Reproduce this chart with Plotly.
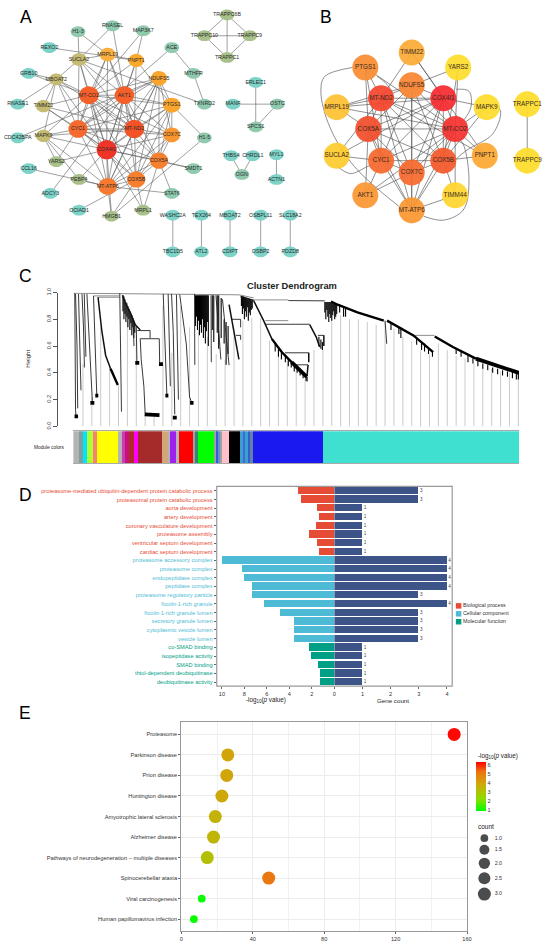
#!/usr/bin/env python
"""Five panel figure: PPI networks, WGCNA dendrogram, GO bars and KEGG bubbles"""

import math

import plotly.graph_objects as go

FONT = "Liberation Sans, Arial, sans-serif"
W, H = 550, 945

# ---- panel A network
a_names = [
    "H1-3", "RNASEL", "MAP3K7", "ACE", "REXO2", "MRPL19", "PNPT1", "SUCLA2", "GRB10", "MBOAT2",
    "NDUFS5", "MTHFR", "MT-CO2", "AKT1", "RNASE1", "TIMM22", "PTGS1", "TXNRD2", "CYC1", "MT-ND2",
    "COX7C", "MAPK9", "CDC42BPA", "H1-5", "COX4I1", "YARS2", "COX5A", "CCL16", "SMDT1", "PEBP4",
    "COX5B", "MT-ATP6", "ADCY3", "STAT6", "OCIAD1", "HMGB1", "MRPL1",
    "TRAPPC6B", "TRAPPC10", "TRAPPC9", "TRAPPC1", "ERLEC1", "MANF", "OSTC", "SPCS1",
    "THBS4", "CHRDL1", "OGN", "MYL1", "ACTN1", "WASHC2A", "TBC1D5", "TEX264", "ATL2",
    "MBOAT2_2", "CDIPT", "OSBPL11", "OSBP2", "SLC18A2", "PDZD8",
]
a_x = [
    77, 112, 143, 172, 48, 107, 136, 78, 27, 55,
    159, 194, 88, 124, 16, 42, 172, 205, 77, 134,
    172, 42, 16, 205, 106, 55, 159, 27, 194, 78,
    136, 107, 49, 172, 78, 111, 143,
    228, 205, 251, 228, 257, 234, 279, 257,
    232, 254, 243, 278, 278, 173, 173, 202, 202,
    231, 231, 262, 262, 292, 292,
]
a_y = [
    27, 21, 26, 43, 43, 50, 56, 55, 69, 75,
    74, 69, 91, 91, 100, 102, 101, 100, 125, 125,
    131, 132, 134, 134, 146, 158, 157, 165, 165, 176,
    176, 183, 190, 190, 207, 213, 207,
    10, 31, 31, 53, 78, 100, 100, 123,
    152, 152, 171, 151, 176, 212, 249, 212, 249,
    212, 249, 212, 249, 212, 249,
]
a_colors = [
    "#8fc9ae", "#8fc9ae", "#8fc9ae", "#8fc9ae", "#7dd3c8", "#f9b040", "#fba92d", "#c5bb72", "#7dd3c8", "#c5bb72",
    "#f9a52e", "#8fc9ae", "#f5602a", "#f5602a", "#7dd3c8", "#c5bb72", "#f9a52e", "#8fc9ae", "#f56b2f", "#f45327",
    "#f9962f", "#c5bb72", "#7dd3c8", "#8fc9ae", "#ef3528", "#a8c08a", "#f68030", "#7dd3c8", "#8fc9ae", "#a8c08a",
    "#f68030", "#f67a30", "#7dd3c8", "#8fc9ae", "#7dd3c8", "#a8c08a", "#a8c08a",
    "#a8c08a", "#a8c08a", "#a8c08a", "#a8c08a", "#7dd3c8", "#7dd3c8", "#8fc9ae", "#8fc9ae",
    "#7dd3c8", "#7dd3c8", "#8fc9ae", "#7dd3c8", "#7dd3c8", "#7dd3c8", "#7dd3c8", "#7dd3c8", "#7dd3c8",
    "#7dd3c8", "#7dd3c8", "#7dd3c8", "#7dd3c8", "#7dd3c8", "#7dd3c8",
]
a_edges = {
    "COX4I1": ["MT-CO2", "AKT1", "CYC1", "MT-ND2", "COX5A", "COX5B", "MT-ATP6", "COX7C", "PTGS1", "NDUFS5",
               "MRPL19", "PNPT1", "SUCLA2", "MBOAT2", "TIMM22", "MAPK9", "YARS2", "PEBP4", "SMDT1", "HMGB1", "MRPL1"],
    "MT-CO2": ["AKT1", "CYC1", "MT-ND2", "COX5A", "COX5B", "MT-ATP6", "COX7C", "PTGS1", "NDUFS5", "MRPL19",
               "SUCLA2", "MBOAT2", "TIMM22", "MAPK9", "PNPT1", "GRB10", "MAP3K7"],
    "MT-ND2": ["AKT1", "CYC1", "COX5A", "COX5B", "MT-ATP6", "COX7C", "PTGS1", "NDUFS5", "MRPL19", "SUCLA2",
               "PNPT1", "MBOAT2", "TIMM22", "MAPK9"],
    "CYC1": ["AKT1", "COX5A", "COX5B", "MT-ATP6", "COX7C", "PTGS1", "NDUFS5", "ACE", "MBOAT2", "TIMM22",
             "MAPK9", "YARS2", "SUCLA2", "MRPL19"],
    "AKT1": ["COX5A", "COX5B", "MT-ATP6", "COX7C", "PTGS1", "NDUFS5", "RNASEL", "MRPL19", "PNPT1", "SUCLA2", "ADCY3"],
    "COX5A": ["COX5B", "MT-ATP6", "COX7C", "PTGS1", "NDUFS5", "SMDT1", "STAT6", "MRPL1"],
    "COX5B": ["MT-ATP6", "COX7C", "PTGS1", "NDUFS5", "HMGB1", "OCIAD1", "MRPL1"],
    "MT-ATP6": ["COX7C", "PTGS1", "NDUFS5", "PEBP4", "CCL16", "STAT6", "MAPK9", "HMGB1"],
    "COX7C": ["PTGS1", "NDUFS5"],
    "PTGS1": ["NDUFS5", "H1-5", "PNPT1"],
    "SUCLA2": ["MRPL19", "H1-3", "RNASEL", "TXNRD2", "MBOAT2"],
    "MBOAT2": ["RNASE1", "TIMM22", "MAPK9", "GRB10"],
    "H1-3": ["MRPL19"],
    "MRPL19": ["PNPT1"],
    "REXO2": ["PNPT1"],
    "MAP3K7": ["PNPT1"],
    "ACE": ["MTHFR"],
    "MTHFR": ["TXNRD2"],
    "H1-5": ["HMGB1"],
    "CDC42BPA": ["NDUFS5"],
    "PEBP4": ["MAPK9"],
    "YARS2": ["MAPK9"],
    "TRAPPC6B": ["TRAPPC10", "TRAPPC9", "TRAPPC1"],
    "TRAPPC10": ["TRAPPC9", "TRAPPC1"],
    "TRAPPC9": ["TRAPPC1"],
    "ERLEC1": ["SPCS1"],
    "MANF": ["OSTC"],
    "OSTC": ["SPCS1"],
    "OGN": ["THBS4", "CHRDL1"],
    "MYL1": ["ACTN1"],
    "WASHC2A": ["TBC1D5"],
    "TEX264": ["ATL2"],
    "MBOAT2_2": ["CDIPT"],
    "OSBPL11": ["OSBP2"],
    "SLC18A2": ["PDZD8"],
}
# node width, height in px where they differ from the small default
a_sizes = {
    "COX4I1": (20.5, 19.5), "MT-CO2": (20, 18), "AKT1": (20, 18), "CYC1": (19.5, 18), "MT-ND2": (20, 18.5),
    "COX5A": (18.5, 16.5), "COX5B": (18.5, 16.5), "MT-ATP6": (19, 17), "COX7C": (17, 15), "PTGS1": (18, 15),
    "NDUFS5": (16.5, 15), "MRPL19": (16, 14), "PNPT1": (15.5, 13.5), "SUCLA2": (16, 13), "MBOAT2": (15, 12),
    "TIMM22": (15.5, 12.5), "MAPK9": (15.5, 12.5),
}

# ---- panel B network
b_names = ["TIMM22", "PTGS1", "YARS2", "NDUFS5", "MT-ND2", "COX4I1", "MRPL19", "MAPK9", "COX5A", "MT-CO2",
           "TRAPPC1", "TRAPPC9", "SUCLA2", "CYC1", "COX5B", "PNPT1", "COX7C", "AKT1", "TIMM44", "MT-ATP6"]
b_x = [415, 368, 462, 415, 384, 447, 339, 491, 371, 459, 532, 532, 339, 384, 447, 489, 415, 368, 459, 415]
b_y = [48, 63, 63, 81, 94, 94, 103, 103, 125, 125, 100, 157, 152, 157, 157, 152, 169, 192, 192, 207]
b_colors = ["#fbab35", "#f98d33", "#fede2e", "#f98432", "#f5452d", "#f52b30", "#fdc131", "#fedc2b", "#f24f2b", "#f53330",
            "#fedd2a", "#fedd2a", "#fdcb2e", "#f6682e", "#f5582b", "#fca832", "#f66a2e", "#fb9733", "#fed52d", "#fb9731"]
b_edges = {
    "MT-CO2": ["COX4I1", "MT-ND2", "COX5A", "CYC1", "COX7C", "COX5B", "NDUFS5", "MT-ATP6", "PNPT1", "MAPK9",
               "YARS2", "MRPL19", "AKT1", "TIMM44", "PTGS1"],
    "COX4I1": ["MT-ND2", "COX5A", "CYC1", "COX7C", "COX5B", "NDUFS5", "MT-ATP6", "MAPK9", "MRPL19", "SUCLA2", "TIMM22"],
    "MT-ND2": ["COX5A", "CYC1", "COX7C", "COX5B", "NDUFS5", "MT-ATP6", "PNPT1", "MRPL19", "PTGS1", "TIMM22", "SUCLA2"],
    "COX5A": ["CYC1", "COX7C", "COX5B", "NDUFS5", "MT-ATP6", "PTGS1", "MRPL19", "AKT1"],
    "CYC1": ["COX7C", "COX5B", "NDUFS5", "MT-ATP6", "PTGS1", "AKT1", "SUCLA2"],
    "COX7C": ["COX5B", "NDUFS5", "MT-ATP6", "AKT1"],
    "COX5B": ["NDUFS5", "MT-ATP6", "PNPT1", "TIMM44", "MAPK9"],
    "NDUFS5": ["MT-ATP6", "YARS2", "MRPL19"],
    "YARS2": ["COX5B"],
    "TIMM22": ["PNPT1"],
    "TIMM44": ["MT-ATP6"],
    "TRAPPC1": ["TRAPPC9"],
}
# the bent edges, as waypoints for a spline
b_curves = [
    [(355, 63), (327, 72), (323, 87), (332, 123), (357, 163), (402, 203)],
    [(498, 97), (505, 107), (497, 130), (470, 147), (447, 167)],
    [(427, 213), (447, 217), (467, 207), (473, 180), (467, 140), (460, 133)],
    [(340, 163), (353, 170), (370, 163), (383, 157)],
    [(460, 85), (473, 87), (475, 103), (467, 117)],
    [(380, 72), (388, 78), (395, 87)],
]

# ---- panel C dendrogram, x is leaf position
guide_x = [82, 91, 100, 109, 118, 127, 136, 145, 154, 163, 172, 181, 190, 199, 208, 217, 226, 235, 244, 253,
           262, 271, 280, 289, 298, 307, 316, 325, 334, 343, 352, 361, 370, 379, 388, 397, 406, 415, 424,
           433, 442, 451, 460, 469, 478, 487, 496, 505, 514, 523]
guide_top = [0.47, 0.22, 0.74, 0.44, 0.31, 0.79, 0.72, 0.09, 0.09, 0.9, 0.55, 0.9, 0.74, 0.72, 0.67, 0.54, 0.5, 0.72, 0.79, 0.81,
             0.81, 0.64, 0.57, 0.49, 0.44, 0.35, 0.57, 0.57, 0.81, 0.83, 0.8, 0.8, 0.78, 0.76, 0.79, 0.73, 0.67, 0.64, 0.57,
             0.54, 0.62, 0.57, 0.53, 0.51, 0.47, 0.44, 0.43, 0.41, 0.4, 0.39]
dend_grey = [
    [(72.7, 0.995), (190, 0.99), (240, 0.983), (255, 0.96)],
    [(92.7, 0.975), (119, 0.975)],
    [(97.3, 0.965), (119, 0.965)],
    [(255, 0.945), (290, 0.945)],
    [(266.7, 0.79), (290, 0.79)],
    [(418, 0.68), (438, 0.68)],
]
dend_thin = [
    [(73.7, 0.995), (73.8, 0.6), (74.5, 0.12), (75, 0.07)],
    [(74.5, 0.99), (76, 0.6), (76.7, 0.135)],
    [(77.5, 0.99), (79, 0.6), (80, 0.27)],
    [(81, 0.99), (82.5, 0.75), (83.5, 0.44)],
    [(83.3, 0.99), (85, 0.52)],
    [(86, 0.99), (88, 0.7), (90.5, 0.25), (91.5, 0.19)],
    [(92.7, 0.975), (94, 0.7), (96, 0.235)],
    [(119.3, 0.995), (120.5, 0.5), (121, 0.11)],
    [(133, 0.75), (133.7, 0.6)],
    [(136, 0.75), (136.7, 0.47)],
    [(137, 0.716), (150, 0.716), (150, 0.66)],
    [(140, 0.655), (159.3, 0.655), (159.7, 0.47)],
    [(140, 0.655), (141, 0.5), (143.7, 0.3), (145, 0.1)],
    [(163.3, 0.99), (165, 0.7), (167, 0.235)],
    [(168.3, 0.99), (170.5, 0.3)],
    [(171.7, 0.99), (173.5, 0.7), (175, 0.09)],
    [(176.7, 0.985), (178.7, 0.2)],
    [(180, 0.985), (186.7, 0.615), (190, 0.22), (192, 0.18)],
    [(195, 0.99), (195.3, 0.46)],
    [(211.7, 0.98), (212, 0.48)],
    [(216.7, 0.98), (221.7, 0.5)],
    [(223.3, 0.95), (230, 0.457)],
    [(233, 0.8), (241.7, 0.8), (241.7, 0.74)],
    [(237, 0.68), (241.7, 0.68), (241.7, 0.647)],
    [(266.7, 0.763), (311.7, 0.763)],
    [(320, 0.68), (326, 0.68)],
    [(286.7, 0.55), (310.7, 0.55)],
    [(297, 0.46), (310, 0.46)],
    [(290, 0.94), (327, 0.938)],
    [(388, 0.79), (389.7, 0.617)],
]
dend_mid = [
    [(97.3, 0.965), (101, 0.72), (105, 0.53), (110, 0.43)],
    [(122, 0.98), (125, 0.92), (130, 0.85), (135, 0.76), (140, 0.72)],
    [(230, 0.91), (240, 0.5)],
    [(241.7, 0.97), (255, 0.94)],
    [(255, 0.938), (265, 0.79), (273.3, 0.654)],
    [(311.7, 0.76), (318.3, 0.667), (321.7, 0.593)],
    [(326, 0.68), (326, 0.6)],
    [(310.7, 0.55), (310.7, 0.48)],
    [(310, 0.46), (309, 0.38)],
]
dend_thick = [
    [(273.3, 0.654), (283.3, 0.556), (293.3, 0.48)],
    [(333.3, 0.933), (340, 0.909), (360, 0.852), (386.7, 0.79)],
    [(390, 0.79), (416.7, 0.68), (436.7, 0.555)],
    [(438.3, 0.672), (456.7, 0.593), (480, 0.506)],
    [(110, 0.43), (117.3, 0.31)],
]
dend_fat = [
    [(293.3, 0.48), (303.3, 0.407), (308.7, 0.37)],
    [(480, 0.506), (510, 0.43), (523.7, 0.4)],
    [(73.5, 0.075), (77, 0.075)],
    [(89.5, 0.175), (93.5, 0.175)],
    [(135, 0.475), (139, 0.475)],
    [(144.5, 0.09), (159.5, 0.085)],
    [(159, 0.465), (163, 0.465)],
    [(173, 0.065), (177, 0.065)],
    [(190.5, 0.175), (194, 0.175)],
    [(94.5, 0.23), (97.5, 0.23)],
    [(165.5, 0.23), (168.5, 0.23)],
]
hair_x = [225, 227, 229,
          276.7, 280, 283, 287, 290, 293, 296, 299, 302, 305, 308, 309, 321, 323, 324.5,
          342, 346, 348, 394, 402, 404, 420, 425, 428, 432, 436,
          460, 465, 472, 477, 482, 487, 492, 497, 502, 507, 512, 517, 521, 523,
          122.5, 123.5, 124.5, 125.5, 126.5, 127.5, 128.5, 129.5, 130.5, 131.5, 132.5, 133.5, 134.5,
          196, 197, 198, 199, 200, 201, 202, 203, 204, 205, 206, 207, 208, 209, 213, 214.5, 218, 219.5, 222,
          242.5, 243.5, 244.5, 245.5, 246.5, 247.5, 248.5, 249.5, 250.5, 251.5, 252.5, 253.5,
          327, 328, 329, 330, 331, 332, 333, 334, 335, 336, 337, 338, 339]
hair_top = [0.8, 0.78, 0.75,
            0.62, 0.58, 0.55, 0.53, 0.5, 0.48, 0.46, 0.44, 0.42, 0.4, 0.38, 0.37, 0.67, 0.65, 0.63,
            0.9, 0.89, 0.885, 0.78, 0.74, 0.74, 0.66, 0.63, 0.62, 0.59, 0.56,
            0.58, 0.56, 0.53, 0.51, 0.49, 0.47, 0.46, 0.44, 0.43, 0.42, 0.41, 0.41, 0.4, 0.4,
            0.98, 0.97, 0.95, 0.93, 0.92, 0.9, 0.88, 0.86, 0.84, 0.83, 0.81, 0.79, 0.77,
            0.98, 0.98, 0.98, 0.98, 0.98, 0.98, 0.98, 0.98, 0.98, 0.98, 0.98, 0.98, 0.98, 0.98, 0.98, 0.98, 0.98, 0.98, 0.96,
            0.97, 0.97, 0.97, 0.96, 0.96, 0.96, 0.95, 0.95, 0.95, 0.95, 0.94, 0.94,
            0.93, 0.93, 0.93, 0.93, 0.93, 0.93, 0.93, 0.93, 0.93, 0.92, 0.92, 0.92, 0.91]
hair_bottom = [0.62, 0.46, 0.54,
               0.56, 0.52, 0.5, 0.48, 0.45, 0.44, 0.41, 0.4, 0.38, 0.36, 0.34, 0.335, 0.6, 0.58, 0.57,
               0.85, 0.82, 0.82, 0.72, 0.69, 0.66, 0.61, 0.57, 0.56, 0.54, 0.52,
               0.54, 0.52, 0.48, 0.47, 0.45, 0.43, 0.42, 0.4, 0.39, 0.38, 0.37, 0.36, 0.35, 0.35,
               0.86, 0.8, 0.84, 0.78, 0.82, 0.74, 0.8, 0.72, 0.77, 0.68, 0.74, 0.66, 0.7,
               0.75, 0.82, 0.72, 0.79, 0.68, 0.76, 0.7, 0.8, 0.66, 0.74, 0.62, 0.71, 0.78, 0.6, 0.72, 0.63, 0.7, 0.58, 0.66,
               0.9, 0.84, 0.88, 0.8, 0.86, 0.82, 0.89, 0.79, 0.85, 0.83, 0.87, 0.88,
               0.85, 0.8, 0.87, 0.82, 0.78, 0.84, 0.81, 0.79, 0.83, 0.86, 0.8, 0.82, 0.84]
module_edges = [72.3, 78.3, 82.3, 86, 92.7, 96.7, 118.3, 122, 125.3, 129.3, 133.7, 138, 162.7, 169.3, 170.7, 176.7,
                179.7, 194, 196, 199, 216, 217.7, 219.3, 221.3, 223, 230.7, 241, 245, 246.7, 250, 252, 255, 325.5, 523.7]
module_colors = ["#b4b4b4", "#7f9f9f", "#00e5ff", "#adff2f", "#fa8072", "#ffff00", "#b4b4b4", "#c83cb4", "#c8107a",
                 "#b02a2a", "#ff00ff", "#a52a2a", "#d2a679", "#b4b4b4", "#a020f0", "#b4b4b4", "#ff0000", "#a0a0a0",
                 "#2e8b7a", "#00ff00", "#a0a0a0", "#3060e0", "#6a90c8", "#a0a0a0", "#ffc0cb", "#000000", "#3a9fd8",
                 "#3f6fc0", "#3a9fd8", "#3060c8", "#6080a8", "#1919f0", "#40e0d0"]

# ---- panel D
go_terms = [
    "proteasome-mediated ubiquitin-dependent protein catabolic process", "proteasomal protein catabolic process",
    "aorta development", "artery development", "coronary vasculature development", "proteasome assembly",
    "ventricular septum development", "cardiac septum development",
    "proteasome accessory complex", "proteasome complex", "endopeptidase complex", "peptidase complex",
    "proteasome regulatory particle", "ficolin-1-rich granule", "ficolin-1-rich granule lumen",
    "secretory granule lumen", "cytoplasmic vesicle lumen", "vesicle lumen",
    "co-SMAD binding", "isopeptidase activity", "SMAD binding", "thiol-dependent deubiquitinase",
    "deubiquitinase activity",
]
go_logp = [3.24, 3.02, 1.6, 1.39, 1.7, 2.28, 1.54, 1.36, 10, 8.27, 8.09, 7.38, 7.38, 6.3, 4.88, 3.61, 3.61, 3.61,
           2.28, 2.13, 1.45, 1.32, 1.32]
go_count = [3, 3, 1, 1, 1, 1, 1, 1, 4, 4, 4, 4, 3, 4, 3, 3, 3, 3, 1, 1, 1, 1, 1]
go_class = ["Biological process"] * 8 + ["Cellular component"] * 10 + ["Molecular function"] * 5
class_colors = {"Biological process": "#e64b35", "Cellular component": "#4dbbd5", "Molecular function": "#00a087"}
class_label_y = [606, 614, 622]

# ---- panel E
kegg_terms = ["Proteasome", "Parkinson disease", "Prion disease", "Huntington disease", "Amyotrophic lateral sclerosis",
              "Alzheimer disease", "Pathways of neurodegeneration \u2013 multiple diseases", "Spinocerebellar ataxia",
              "Viral carcinogenesis", "Human papillomavirus infection"]
kegg_ratio = [152.8, 26, 25.4, 22.7, 19, 18, 14.5, 48.9, 11.4, 7]
kegg_logp = [6.3, 4.0, 4.0, 3.9, 3.6, 3.5, 3.2, 5.2, 1.0, 1.0]
kegg_count = [3, 3, 3, 3, 3, 3, 3, 3, 1, 1]
count_levels = [1.0, 1.5, 2.0, 2.5, 3.0]
count_px = {1.0: 7.7, 1.5: 10, 2.0: 11.3, 2.5: 12, 3.0: 13}
count_y = [840.3, 852, 865.7, 880.7, 896.7]
heat_scale = [[0, "#00ff00"], [0.25, "#8fdc00"], [0.55, "#cfa80a"], [0.8, "#ec7410"], [1, "#ff0000"]]


def px_x(x):
    return x / W


def px_y(y):
    return 1 - y / H


def edge_lines(edges, index):
    xs, ys = [], []
    for a, others in edges.items():
        for b in others:
            xs += [index[a][0], index[b][0], None]
            ys += [index[a][1], index[b][1], None]
    return xs, ys


def flatten(polylines):
    xs, ys = [], []
    for line in polylines:
        xs += [p[0] for p in line] + [None]
        ys += [p[1] for p in line] + [None]
    return xs, ys


fig = go.Figure()

# network A: edges, then ellipses grouped by colour, then labels
a_index = {n: (x, y) for n, x, y in zip(a_names, a_x, a_y)}
ex, ey = edge_lines(a_edges, a_index)
fig.add_trace(go.Scatter(x=ex, y=ey, mode="lines", line=dict(color="rgba(95,95,95,0.75)", width=0.8),
                         hoverinfo="skip"))
for colour in dict.fromkeys(a_colors):
    px_, py_ = [], []
    for n, x, y, c in zip(a_names, a_x, a_y, a_colors):
        if c != colour:
            continue
        w, h = a_sizes.get(n, (15, 11))
        for k in range(29):
            t = 2 * math.pi * k / 28
            px_.append(x + w / 2 * math.cos(t))
            py_.append(y + h / 2 * math.sin(t))
        px_.append(None)
        py_.append(None)
    fig.add_trace(go.Scatter(x=px_, y=py_, mode="lines", fill="toself", fillcolor=colour,
                             line=dict(width=0), hoverinfo="skip"))
fig.add_trace(go.Scatter(x=a_x, y=a_y, mode="text", text=[n.split("_")[0] for n in a_names],
                         textfont=dict(size=5.3, color="#2a2a2a", family=FONT), hoverinfo="skip"))

# network B
b_index = {n: (x, y) for n, x, y in zip(b_names, b_x, b_y)}
ex, ey = edge_lines(b_edges, b_index)
fig.add_trace(go.Scatter(x=ex, y=ey, mode="lines", line=dict(color="rgba(70,70,70,0.75)", width=0.8),
                         hoverinfo="skip"))
cx, cy = flatten(b_curves)
fig.add_trace(go.Scatter(x=cx, y=cy, mode="lines", line=dict(color="rgba(90,90,90,0.85)", width=0.8, shape="spline"),
                         hoverinfo="skip"))
fig.add_trace(go.Scatter(x=b_x, y=b_y, mode="markers+text", text=b_names, textposition="middle center",
                         marker=dict(size=26, color=b_colors, opacity=0.93, line=dict(width=0)),
                         textfont=dict(size=6.3, color="#3a2a20", family=FONT), hoverinfo="skip"))

# dendrogram
gx, gy = [], []
for x, top in zip(guide_x, guide_top):
    gx += [x, x, None]
    gy += [top, 0, None]
fig.add_trace(go.Scatter(x=gx, y=gy, mode="lines", line=dict(color="#c4c4c4", width=0.9),
                         xaxis="x2", yaxis="y2", hoverinfo="skip", cliponaxis=False))
hx, hy = [], []
for x, top, bot in zip(hair_x, hair_top, hair_bottom):
    hx += [x, x, None]
    hy += [top, bot, None]
fig.add_trace(go.Scatter(x=hx, y=hy, mode="lines", line=dict(color="#000000", width=1.1),
                         xaxis="x2", yaxis="y2", hoverinfo="skip", cliponaxis=False))
for lines, colour, width in [(dend_grey, "#8c8c8c", 1.0), (dend_thin, "#222222", 0.9), (dend_mid, "#111111", 1.5),
                             (dend_thick, "#000000", 2.4), (dend_fat, "#000000", 3.8)]:
    lx, ly = flatten(lines)
    fig.add_trace(go.Scatter(x=lx, y=ly, mode="lines", line=dict(color=colour, width=width),
                             xaxis="x2", yaxis="y2", hoverinfo="skip", cliponaxis=False))

# module colour strip
fig.add_trace(go.Bar(y=[0.5] * len(module_colors),
                     x=[b - a for a, b in zip(module_edges, module_edges[1:])],
                     base=module_edges[:-1], orientation="h", width=1,
                     marker=dict(color=module_colors, line=dict(width=0)),
                     xaxis="x3", yaxis="y3", hoverinfo="skip"))

# GO bars, left half by class
for name, colour in class_colors.items():
    terms = [t for t, c in zip(go_terms, go_class) if c == name]
    vals = [v for v, c in zip(go_logp, go_class) if c == name]
    fig.add_trace(go.Bar(y=terms, x=vals, orientation="h", width=0.84, name=name,
                         marker=dict(color=colour, line=dict(width=0)), xaxis="x4", yaxis="y4"))
fig.add_trace(go.Bar(y=go_terms, x=go_count, orientation="h", width=0.84,
                     marker=dict(color="#3c5488", line=dict(width=0)), xaxis="x5", yaxis="y5"))
# count labels as their own trace, bar text drops the ones near the frame
fig.add_trace(go.Scatter(x=go_count, y=go_terms, mode="text", text=[" %d" % c for c in go_count],
                         textposition="middle right", cliponaxis=False, hoverinfo="skip",
                         textfont=dict(size=4.6, color="#444444", family=FONT), xaxis="x5", yaxis="y5"))
# hand made class key
fig.add_trace(go.Scatter(x=[462.5] * 3, y=class_label_y, mode="markers+text", text=list(class_colors),
                         textposition="middle right",
                         marker=dict(symbol="square", size=5.5, color=list(class_colors.values())),
                         textfont=dict(size=5.3, color="#333333", family=FONT), hoverinfo="skip"))

# KEGG bubbles
fig.add_trace(go.Scatter(
    x=kegg_ratio, y=kegg_terms, mode="markers", xaxis="x6", yaxis="y6",
    marker=dict(size=[count_px[float(c)] for c in kegg_count], color=kegg_logp, cmin=0.9, cmax=6.38,
                colorscale=heat_scale, line=dict(width=0), opacity=1,
                colorbar=dict(x=px_x(480.5), xanchor="left", y=px_y(763.3), yanchor="top",
                              len=49.4, lenmode="pixels", thickness=9.5, thicknessmode="pixels",
                              xpad=0, ypad=0, outlinewidth=0, ticks="", tickvals=[1, 2, 3, 4, 5, 6],
                              tickfont=dict(size=5.5, color="#333333", family=FONT)))))
fig.add_trace(go.Scatter(x=[488.6] * 5, y=count_y, mode="markers", hoverinfo="skip",
                         marker=dict(size=[count_px[c] for c in count_levels], color="black", line=dict(width=0))))
fig.add_trace(go.Scatter(x=[499] * 5, y=count_y, mode="text", textposition="middle right", hoverinfo="skip",
                         text=["%.1f" % c for c in count_levels],
                         textfont=dict(size=5.3, color="#333333", family=FONT)))


def note(text, x, y, size, angle=0, anchor="center", bold=False, colour="#222222"):
    return dict(text="<b>%s</b>" % text if bold else text, x=x, y=y, xref="x", yref="y", showarrow=False,
                xanchor=anchor, yanchor="middle", textangle=angle,
                font=dict(size=size, color=colour, family=FONT))


logp_title = "-log<sub>10</sub>(<i>p</i> value)"
notes = [
    note("A", 16, 12, 17.5, anchor="left", colour="black"),
    note("B", 320, 12, 17.5, anchor="left", colour="black"),
    note("C", 15, 273, 17.5, anchor="left", colour="black"),
    note("D", 15, 494, 17.5, anchor="left", colour="black"),
    note("E", 15, 714, 17.5, anchor="left", colour="black"),
    note("Cluster Dendrogram", 294, 283, 9.3, bold=True),
    note("Height", 26, 357, 6.2, angle=-90),
    note("Module colors", 47.7, 446, 4.8),
    note(logp_title, 267, 701, 6.3),
    note("Gene count", 396.5, 701, 6.2),
    note(logp_title, 480, 757, 6.3, anchor="left"),
    note("count", 480, 829, 6.5, anchor="left"),
]

tick_font = dict(size=5.6, color="#333333", family=FONT)
term_labels = ['<span style="color:%s">%s</span>' % (class_colors[c], t) for t, c in zip(go_terms, go_class)]
hidden = dict(visible=False, showgrid=False, zeroline=False)

fig.update_layout(
    width=W, height=H, margin=dict(l=0, r=0, t=0, b=0), showlegend=False, bargap=0,
    paper_bgcolor="white", plot_bgcolor="white", font=dict(family=FONT),
    barmode="overlay",
    annotations=notes,
    xaxis=dict(domain=[0, 1], range=[0, W], **hidden),
    yaxis=dict(domain=[0, 1], range=[H, 0], **hidden),
    # dendrogram
    xaxis2=dict(domain=[px_x(72.3), px_x(523.7)], range=[72.3, 523.7], anchor="y2", **hidden),
    yaxis2=dict(domain=[px_y(425), px_y(290)], range=[0, 1], anchor="free", position=px_x(55.4),
                tickvals=[0, 0.2, 0.4, 0.6, 0.8, 1], ticktext=["0.0", "0.2", "0.4", "0.6", "0.8", "1.0"],
                tickangle=-90, ticks="outside", ticklen=4, tickcolor="#555555", tickwidth=0.7,
                showline=True, linecolor="#555555", linewidth=0.7, showgrid=False, zeroline=False,
                tickfont=tick_font),
    # module strip
    xaxis3=dict(domain=[px_x(72.3), px_x(523.7)], range=[72.3, 523.7], anchor="y3", showgrid=False, zeroline=False,
                showticklabels=False, ticks="", showline=True, mirror=True, linecolor="#aaaaaa", linewidth=1),
    yaxis3=dict(domain=[px_y(462), px_y(430)], range=[0, 1], anchor="x3", **hidden),
    # GO bars
    xaxis4=dict(domain=[px_x(217.5), px_x(336.7)], range=[10.46, 0], anchor="y4", showgrid=False, zeroline=False,
                tickvals=[10, 8, 6, 4, 2, 0], ticks="outside", ticklen=2, tickcolor="#666666", tickfont=tick_font),
    yaxis4=dict(domain=[px_y(687), px_y(485.5)], anchor="x4", type="category", categoryorder="array",
                categoryarray=go_terms, range=[22.46, -0.51], tickmode="array", tickvals=go_terms,
                ticktext=term_labels, ticks="outside", ticklen=2, tickcolor="#666666", showgrid=False,
                zeroline=False, tickfont=dict(size=5.7, family=FONT)),
    xaxis5=dict(domain=[px_x(336.7), px_x(456)], range=[0, 4.186], anchor="y5", showgrid=False, zeroline=False,
                tickvals=[1, 2, 3, 4], ticks="outside", ticklen=2, tickcolor="#666666", tickfont=tick_font),
    yaxis5=dict(domain=[px_y(687), px_y(485.5)], anchor="x5", type="category", categoryorder="array",
                categoryarray=go_terms, range=[22.46, -0.51], showticklabels=False, showgrid=False, zeroline=False),
    # KEGG
    xaxis6=dict(domain=[px_x(181.7), px_x(471)], range=[0, 160], anchor="y6", tickvals=[0, 40, 80, 120, 160],
                ticks="outside", ticklen=2, tickcolor="#666666", gridcolor="#ececec", gridwidth=0.8, zeroline=False,
                minor=dict(dtick=20, showgrid=True, gridcolor="#f1f1f1", gridwidth=0.6),
                showline=True, mirror=True, linecolor="#999999", linewidth=1.4, tickfont=tick_font),
    yaxis6=dict(domain=[px_y(934), px_y(723)], anchor="x6", type="category", categoryorder="array",
                categoryarray=kegg_terms, range=[9.58, -0.61], ticks="outside", ticklen=2, tickcolor="#666666",
                gridcolor="#ececec", gridwidth=0.8, zeroline=False, showline=True, mirror=True,
                linecolor="#999999", linewidth=1.4, tickfont=dict(size=5.7, color="#333333", family=FONT)),
    shapes=[dict(type="rect", xref="paper", yref="paper", x0=px_x(217.5), x1=px_x(456), y0=px_y(687), y1=px_y(485.5),
                 line=dict(color="#999999", width=1.2), fillcolor="rgba(0,0,0,0)", layer="above")],
)

fig.write_html("out.html", config=dict(displayModeBar=False),
               post_script="document.body.style.margin='0';")
